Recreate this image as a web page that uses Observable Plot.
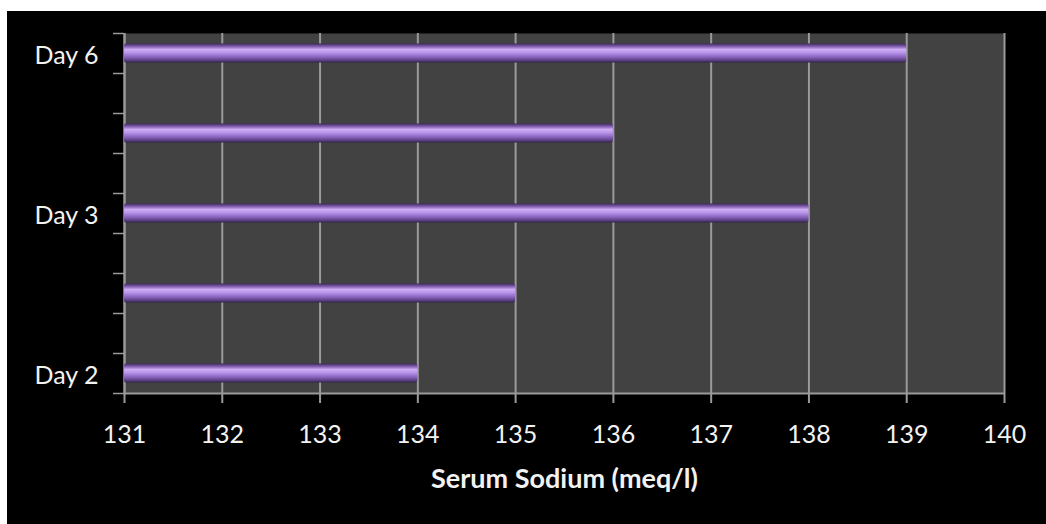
<!DOCTYPE html>
<html>
<head>
<meta charset="utf-8">
<script src="https://cdn.jsdelivr.net/npm/d3@7"></script>
<script src="https://cdn.jsdelivr.net/npm/@observablehq/plot@0.6"></script>
<style>
  html, body { margin: 0; padding: 0; background: #ffffff; }
  #chart { position: absolute; left: 7px; top: 11px; width: 1039px; height: 513px; background: #000000; overflow: hidden; }
</style>
</head>
<body>
<div id="chart"></div>
<script>
// Categories, bottom to top (only every other bar carries a label)
const categories = ["Day 2", "", "Day 3", "", "Day 6"];
// Serum sodium values (meq/l) for each bar, bottom to top
const sodium = [134, 135, 138, 136, 139];
// Each bar occupies one row followed by one empty row
const rowsPerCategory = 2;
// X axis ticks
const xTicks = [131, 132, 133, 134, 135, 136, 137, 138, 139, 140];
const xTitle = "Serum Sodium (meq/l)";

const rows = categories.map((label, i) => ({label, row: i * rowsPerCategory, value: sodium[i]}));
const nRows = categories.length * rowsPerCategory - 1;
const rowBoundaries = d3.range(0, nRows + 1);
const labelled = rows.filter(d => d.label !== "");

const gridColor = "#9a9a9a";

const chart = Plot.plot({
  width: 1039,
  height: 513,
  marginLeft: 117,
  marginRight: 42,
  marginTop: 22,
  marginBottom: 131,
  style: {background: "#000000", color: "#f2f2f2", fontFamily: "Lato, 'Open Sans', sans-serif"},
  x: {domain: [xTicks[0], xTicks[xTicks.length - 1]]},
  y: {domain: [0, nRows]},
  marks: [
    Plot.frame({fill: "#424242", stroke: "none"}),
    Plot.gridX(xTicks, {stroke: gridColor, strokeOpacity: 1, strokeWidth: 2}),
    Plot.ruleX([xTicks[0]], {stroke: gridColor, strokeWidth: 2}),
    Plot.ruleY([0], {stroke: gridColor, strokeWidth: 2}),
    Plot.rectX(rows, {
      x1: xTicks[0],
      x2: "value",
      y1: "row",
      y2: d => d.row + 1,
      insetTop: 10.5,
      insetBottom: 10.5,
      fill: "url(#barGrad)",
      rx: 2
    }),
    Plot.axisY({ticks: rowBoundaries, tickSize: 11, tickFormat: () => "", label: null, stroke: gridColor, strokeWidth: 1.5}),
    Plot.text(labelled, {
      frameAnchor: "left",
      y: d => d.row + 0.5,
      text: "label",
      textAnchor: "end",
      dx: -26,
      dy: 2,
      fontSize: 25,
      fill: "#f2f2f2"
    }),
    Plot.axisX({ticks: xTicks, tickSize: 10, tickPadding: 22, fontSize: 25, stroke: gridColor, strokeWidth: 2, fill: "#f2f2f2", label: null}),
    Plot.text([xTitle], {
      frameAnchor: "bottom",
      text: d => d,
      dy: 86,
      lineAnchor: "middle",
      fontSize: 27,
      fontWeight: "bold",
      fill: "#f2f2f2"
    })
  ]
});

// 3D cylinder-like gradient for the bars
const svg = d3.select(chart);
const defs = svg.insert("defs", ":first-child");
const grad = defs.append("linearGradient")
  .attr("id", "barGrad")
  .attr("x1", 0).attr("y1", 0).attr("x2", 0).attr("y2", 1);
[
  ["0%", "#3f2c5a"],
  ["14%", "#7a58a8"],
  ["32%", "#cfadf5"],
  ["48%", "#b994ea"],
  ["70%", "#8c66c0"],
  ["88%", "#5d4285"],
  ["100%", "#33244a"]
].forEach(([o, c]) => grad.append("stop").attr("offset", o).attr("stop-color", c));

document.getElementById("chart").appendChild(chart);
</script>
</body>
</html>
